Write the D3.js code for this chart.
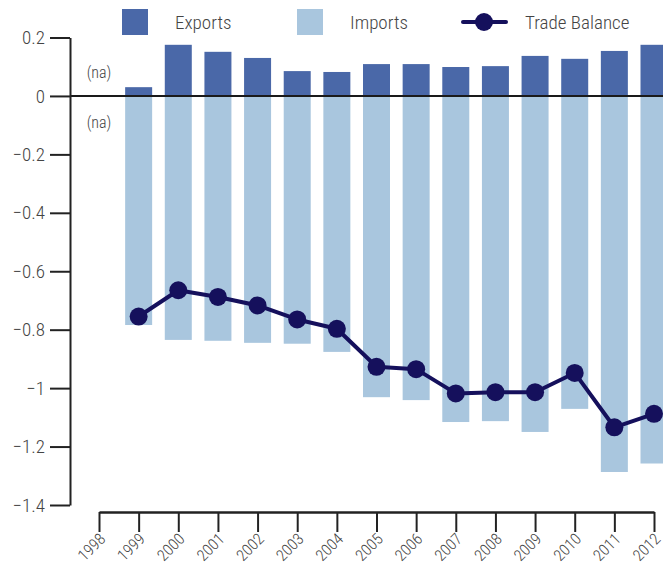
<!DOCTYPE html>
<html>
<head>
<meta charset="utf-8">
<script src="https://cdn.jsdelivr.net/npm/d3@7"></script>
<style>
  html, body { margin: 0; padding: 0; background: #fff; }
  svg { display: block; }
  text { font-family: "Liberation Sans Narrow", "Arial Narrow", "Roboto Condensed", "DejaVu Sans Condensed", sans-serif; font-stretch: condensed; font-weight: 300; fill: #444; }
</style>
</head>
<body>
<svg id="chart" width="663" height="567"></svg>
<script>
const years = [1998, 1999, 2000, 2001, 2002, 2003, 2004, 2005, 2006, 2007, 2008, 2009, 2010, 2011, 2012];
const exportsVals = [null, 0.030, 0.175, 0.151, 0.130, 0.085, 0.082, 0.109, 0.109, 0.099, 0.102, 0.137, 0.127, 0.154, 0.175];
const importsVals = [null, -0.784, -0.835, -0.838, -0.845, -0.848, -0.876, -1.031, -1.041, -1.116, -1.113, -1.150, -1.071, -1.287, -1.258];
const balanceVals = [null, -0.755, -0.665, -0.688, -0.717, -0.765, -0.797, -0.927, -0.935, -1.018, -1.014, -1.014, -0.948, -1.134, -1.088];
const yTicks = [0.2, 0, -0.2, -0.4, -0.6, -0.8, -1, -1.2, -1.4];
const legendItems = ["Exports", "Imports", "Trade Balance"];
const naLabel = "(na)";

const colExports = "#4a68a8";
const colImports = "#a9c6de";
const colBalance = "#15105c";

const svg = d3.select("#chart");

const y = d3.scaleLinear().domain([-1.4, 0.2]).range([505, 37.5]);
const x = d3.scalePoint().domain(years).range([99, 654]);
const barW = 27;

// Imports bars
svg.append("g").selectAll("rect")
  .data(years.map((yr, i) => ({ yr, v: importsVals[i] })).filter(d => d.v !== null))
  .join("rect")
  .attr("x", d => x(d.yr) - barW / 2)
  .attr("width", barW)
  .attr("y", y(0))
  .attr("height", d => y(d.v) - y(0))
  .attr("fill", colImports);

// Exports bars
svg.append("g").selectAll("rect")
  .data(years.map((yr, i) => ({ yr, v: exportsVals[i] })).filter(d => d.v !== null))
  .join("rect")
  .attr("x", d => x(d.yr) - barW / 2)
  .attr("width", barW)
  .attr("y", d => y(d.v))
  .attr("height", d => y(0) - y(d.v))
  .attr("fill", colExports);

// Zero line
svg.append("line")
  .attr("x1", 70).attr("x2", 663)
  .attr("y1", y(0)).attr("y2", y(0))
  .attr("stroke", "#1a1a1a").attr("stroke-width", 2);

// (na) labels
svg.append("text").attr("x", x(1998)).attr("y", y(0.08)).attr("dy", "0.35em")
  .attr("text-anchor", "middle").style("font-size", "16px").text(naLabel);
svg.append("text").attr("x", x(1998)).attr("y", y(-0.09)).attr("dy", "0.35em")
  .attr("text-anchor", "middle").style("font-size", "16px").text(naLabel);

// Trade balance line
const balData = years.map((yr, i) => ({ yr, v: balanceVals[i] })).filter(d => d.v !== null);
svg.append("path")
  .datum(balData)
  .attr("fill", "none")
  .attr("stroke", colBalance)
  .attr("stroke-width", 4)
  .attr("stroke-linejoin", "round")
  .attr("d", d3.line().x(d => x(d.yr)).y(d => y(d.v)));
svg.append("g").selectAll("circle")
  .data(balData)
  .join("circle")
  .attr("cx", d => x(d.yr))
  .attr("cy", d => y(d.v))
  .attr("r", 9)
  .attr("fill", colBalance);

// Y axis
const yAxis = svg.append("g")
  .attr("transform", "translate(70,0)")
  .call(d3.axisLeft(y).tickValues(yTicks).tickSize(20).tickSizeOuter(0).tickPadding(5)
    .tickFormat(d => d === 0 ? "0" : d3.format("~g")(d)));
yAxis.select(".domain").attr("stroke", "#222").attr("stroke-width", 2);
yAxis.selectAll(".tick line").attr("stroke", "#222").attr("stroke-width", 2);
yAxis.selectAll(".tick text").style("font-size", "19px").attr("fill", "#444");

// X axis
const xAxis = svg.append("g")
  .attr("transform", "translate(0,512)")
  .call(d3.axisBottom(x).tickSize(20).tickSizeOuter(0).tickPadding(0));
xAxis.select(".domain").attr("stroke", "#222").attr("stroke-width", 2.5);
xAxis.selectAll(".tick line").attr("stroke", "#222").attr("stroke-width", 2);
xAxis.selectAll(".tick text")
  .attr("x", 0).attr("y", 0).attr("dy", "0.35em")
  .attr("text-anchor", "end")
  .attr("transform", "translate(3,24) rotate(-45)")
  .style("font-size", "16px").attr("fill", "#444");

// Legend
const lg = svg.append("g");
lg.append("rect").attr("x", 122).attr("y", 9).attr("width", 26).attr("height", 26).attr("fill", colExports);
lg.append("text").attr("x", 175).attr("y", 22).attr("dy", "0.35em").style("font-size", "19px").text(legendItems[0]);
lg.append("rect").attr("x", 297).attr("y", 9).attr("width", 26).attr("height", 26).attr("fill", colImports);
lg.append("text").attr("x", 350).attr("y", 22).attr("dy", "0.35em").style("font-size", "19px").text(legendItems[1]);
lg.append("line").attr("x1", 463).attr("x2", 506).attr("y1", 22).attr("y2", 22)
  .attr("stroke", colBalance).attr("stroke-width", 4).attr("stroke-linecap", "round");
lg.append("circle").attr("cx", 484).attr("cy", 22).attr("r", 9).attr("fill", colBalance);
lg.append("text").attr("x", 525).attr("y", 22).attr("dy", "0.35em").style("font-size", "19px").text(legendItems[2]);
</script>
</body>
</html>
